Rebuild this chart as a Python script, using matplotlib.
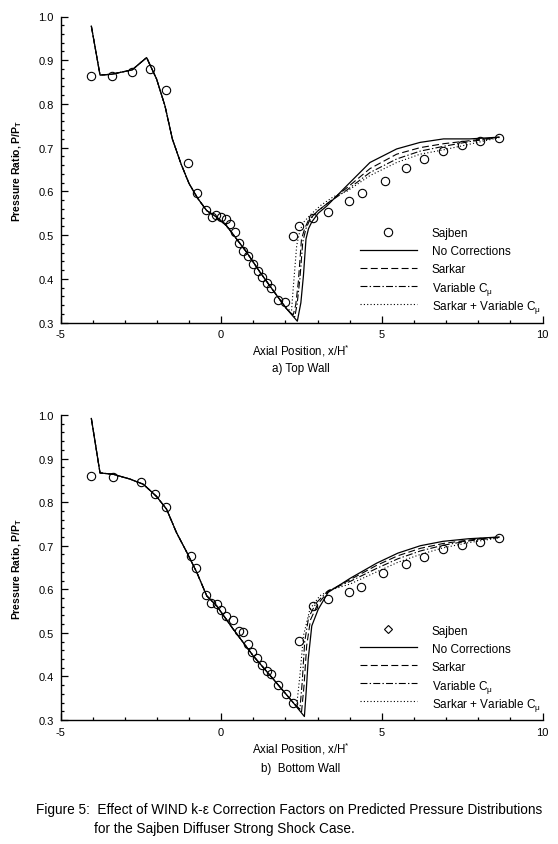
import matplotlib
matplotlib.use("Agg")
import matplotlib.pyplot as plt
from matplotlib.ticker import MultipleLocator

plt.rcParams['font.family'] = ['Liberation Sans', 'DejaVu Sans']
plt.rcParams['mathtext.fontset'] = 'custom'
plt.rcParams['mathtext.rm'] = 'Liberation Sans'
plt.rcParams['mathtext.it'] = 'Liberation Sans:italic'
plt.rcParams['mathtext.bf'] = 'Liberation Sans:bold'
plt.rcParams['lines.scale_dashes'] = False

# ---------------- Top wall data ----------------
top_sajben_x = [-4.04, -3.40, -2.77, -2.22, -1.71, -1.04, -0.76, -0.48, -0.30, -0.16,
                -0.01, 0.14, 0.28, 0.43, 0.56, 0.68, 0.82, 0.98, 1.14, 1.27,
                1.42, 1.54, 1.78, 2.00, 2.23, 2.43, 2.87, 3.31, 3.98, 4.39,
                5.09, 5.75, 6.32, 6.90, 7.49, 8.05, 8.65]
top_sajben_p = [0.865, 0.863, 0.873, 0.881, 0.831, 0.666, 0.597, 0.558, 0.542, 0.546,
                0.541, 0.536, 0.525, 0.506, 0.481, 0.464, 0.453, 0.433, 0.418, 0.405,
                0.390, 0.378, 0.352, 0.346, 0.497, 0.521, 0.539, 0.552, 0.578, 0.596,
                0.624, 0.653, 0.673, 0.693, 0.706, 0.715, 0.723]

# common upstream part (all four computations coincide)
top_up_x = [-4.04, -3.77, -3.40, -2.77, -2.32, -2.01, -1.75, -1.52, -1.25, -1.00,
            -0.73, -0.45, -0.14, 0.17, 0.48, 0.79, 1.21, 1.62, 2.04]
top_up_p = [0.978, 0.866, 0.868, 0.878, 0.906, 0.857, 0.796, 0.720, 0.663, 0.618,
            0.584, 0.556, 0.541, 0.521, 0.491, 0.461, 0.415, 0.373, 0.331]

top_nocorr_x = [2.37, 2.48, 2.56, 2.64, 2.72, 2.82, 3.02, 3.28, 3.91, 4.63, 5.46, 6.19, 6.92, 7.74, 8.65]
top_nocorr_p = [0.303, 0.345, 0.407, 0.491, 0.515, 0.530, 0.550, 0.566, 0.613, 0.666, 0.697, 0.712, 0.720, 0.720, 0.724]
top_sarkar_x = [2.24, 2.32, 2.40, 2.50, 2.60, 2.71, 3.00, 3.30, 3.91, 4.63, 5.46, 6.19, 6.92, 7.74, 8.65]
top_sarkar_p = [0.317, 0.340, 0.392, 0.491, 0.515, 0.533, 0.555, 0.572, 0.608, 0.652, 0.685, 0.700, 0.709, 0.716, 0.724]
top_varcmu_x = [2.29, 2.36, 2.45, 2.54, 2.64, 2.76, 3.00, 3.30, 3.91, 4.63, 5.46, 6.19, 6.92, 7.74, 8.65]
top_varcmu_p = [0.313, 0.340, 0.400, 0.485, 0.515, 0.535, 0.555, 0.572, 0.603, 0.643, 0.674, 0.692, 0.703, 0.714, 0.723]
top_both_x = [2.19, 2.24, 2.35, 2.45, 2.56, 2.80, 3.10, 3.50, 3.91, 4.63, 5.46, 6.19, 6.92, 7.74, 8.65]
top_both_p = [0.327, 0.376, 0.476, 0.510, 0.529, 0.548, 0.568, 0.588, 0.600, 0.636, 0.666, 0.685, 0.695, 0.708, 0.723]

# ---------------- Bottom wall data ----------------
bot_sajben_x = [-4.04, -3.38, -2.50, -2.05, -1.71, -0.94, -0.77, -0.47, -0.31, -0.13,
                -0.02, 0.15, 0.38, 0.55, 0.69, 0.83, 0.97, 1.12, 1.27, 1.42,
                1.55, 1.78, 2.02, 2.23, 2.43, 2.87, 3.31, 3.98, 4.35, 5.05,
                5.75, 6.32, 6.90, 7.49, 8.05, 8.65]
bot_sajben_p = [0.861, 0.858, 0.846, 0.819, 0.790, 0.676, 0.649, 0.586, 0.568, 0.567,
                0.553, 0.538, 0.530, 0.505, 0.502, 0.474, 0.457, 0.442, 0.427, 0.412,
                0.405, 0.380, 0.359, 0.338, 0.482, 0.561, 0.577, 0.593, 0.605, 0.637,
                0.658, 0.675, 0.692, 0.701, 0.708, 0.718]

bot_up_x = [-4.04, -3.77, -3.36, -2.84, -2.42, -2.01, -1.70, -1.39, -1.07, -0.76,
            -0.45, -0.14, 0.38, 1.00, 1.62, 2.24]
bot_up_p = [0.992, 0.867, 0.864, 0.853, 0.841, 0.813, 0.784, 0.730, 0.685, 0.639,
            0.585, 0.562, 0.508, 0.447, 0.394, 0.340]

bot_nocorr_x = [2.59, 2.65, 2.71, 2.82, 3.02, 3.33, 4.01, 4.84, 5.50, 6.20, 6.90, 7.70, 8.65]
bot_nocorr_p = [0.308, 0.370, 0.440, 0.516, 0.554, 0.593, 0.625, 0.660, 0.683, 0.700, 0.710, 0.716, 0.720]
bot_sarkar_x = [2.50, 2.58, 2.66, 2.78, 3.00, 3.33, 4.01, 4.84, 5.50, 6.20, 6.90, 7.70, 8.65]
bot_sarkar_p = [0.318, 0.380, 0.470, 0.530, 0.565, 0.595, 0.622, 0.655, 0.677, 0.694, 0.705, 0.713, 0.720]
bot_varcmu_x = [2.45, 2.52, 2.60, 2.72, 2.95, 3.33, 4.01, 4.84, 5.50, 6.20, 6.90, 7.70, 8.65]
bot_varcmu_p = [0.325, 0.385, 0.480, 0.535, 0.568, 0.597, 0.618, 0.648, 0.670, 0.688, 0.701, 0.711, 0.719]
bot_both_x = [2.35, 2.45, 2.56, 2.76, 3.07, 3.39, 4.01, 4.84, 5.50, 6.20, 6.90, 7.70, 8.65]
bot_both_p = [0.333, 0.402, 0.493, 0.554, 0.585, 0.598, 0.612, 0.640, 0.662, 0.680, 0.695, 0.707, 0.718]

legend_labels = ["Sajben", "No Corrections", "Sarkar", "Variable C$_{\\mathrm{\\mu}}$",
                 "Sarkar + Variable C$_{\\mathrm{\\mu}}$"]
x_ticks = [-5, 0, 5, 10]
y_ticks = [0.3, 0.4, 0.5, 0.6, 0.7, 0.8, 0.9, 1.0]

styles = [dict(ls='-', lw=0.9),
          dict(ls=(0, (5, 2.4)), lw=0.8),
          dict(ls=(0, (5, 1.6, 1.0, 1.6)), lw=0.8),
          dict(ls=(0, (0.8, 1.6)), lw=0.8)]

W, H = 558, 845
LEFT, RIGHT = 60.5, 542.5
fig = plt.figure(figsize=(W / 100, H / 100), dpi=100)
fig.patch.set_facecolor('white')


def make_axes(top_px, bot_px):
    return fig.add_axes([LEFT / W, 1 - bot_px / H, (RIGHT - LEFT) / W, (bot_px - top_px) / H])


def style_axes(ax):
    ax.set_xlim(-5, 10)
    ax.set_ylim(0.3, 1.0)
    ax.set_xticks(x_ticks)
    ax.set_yticks(y_ticks)
    ax.set_xticklabels([str(t) for t in x_ticks])
    ax.set_yticklabels([f"{t:.1f}" for t in y_ticks])
    ax.xaxis.set_minor_locator(MultipleLocator(1))
    ax.yaxis.set_minor_locator(MultipleLocator(0.02))
    for s in ['top', 'right']:
        ax.spines[s].set_visible(False)
    for s in ['left', 'bottom']:
        ax.spines[s].set_linewidth(1.0)
    ax.tick_params(which='major', direction='in', length=5, width=0.9, labelsize=8, pad=5)
    ax.tick_params(which='minor', direction='in', length=2.5, width=0.9)
    ax.set_ylabel("Pressure Ratio, P/P$_{\\mathbf{T}}$", fontsize=7.5, fontweight='bold', labelpad=10)


def draw(ax, top_px, bot_px, sx, sp, upx, upp, tails, legend_marker):
    ax.plot(sx, sp, ls='none', marker='o', ms=6, mfc='none', mec='black', mew=0.8, zorder=3)
    for (tx, tp), st in zip(tails, styles):
        ax.plot(list(upx) + list(tx), list(upp) + list(tp), color='black', **st)
    # manual legend (axes-fraction coordinates)
    h = bot_px - top_px
    wdt = RIGHT - LEFT
    x0 = (360 - LEFT) / wdt
    x1 = (416.7 - LEFT) / wdt
    xm = (388.3 - LEFT) / wdt
    xt = (432 - LEFT) / wdt
    for i, lab in enumerate(legend_labels):
        yf = (90.8 - 18 * i) / h
        if i == 0:
            ax.plot([xm], [yf], transform=ax.transAxes, ls='none', marker=legend_marker,
                    ms=6 if legend_marker == 'o' else 4.5, mfc='none', mec='black', mew=0.8,
                    clip_on=False)
        else:
            ax.plot([x0, x1], [yf, yf], transform=ax.transAxes, color='black',
                    clip_on=False, **styles[i - 1])
        ax.text(xt, yf, lab, transform=ax.transAxes, ha='left', va='center_baseline',
                fontsize=8.5)


ax1 = make_axes(17.5, 323.5)
style_axes(ax1)
draw(ax1, 17.5, 323.5, top_sajben_x, top_sajben_p, top_up_x, top_up_p,
     [(top_nocorr_x, top_nocorr_p), (top_sarkar_x, top_sarkar_p),
      (top_varcmu_x, top_varcmu_p), (top_both_x, top_both_p)], 'o')

ax2 = make_axes(416, 721)
style_axes(ax2)
draw(ax2, 416, 721, bot_sajben_x, bot_sajben_p, bot_up_x, bot_up_p,
     [(bot_nocorr_x, bot_nocorr_p), (bot_sarkar_x, bot_sarkar_p),
      (bot_varcmu_x, bot_varcmu_p), (bot_both_x, bot_both_p)], 'D')

xc = 301 / W
fig.text(xc, 1 - 351 / H, "Axial Position, x/H$^{*}$", ha='center', va='center', fontsize=8.3)
fig.text(xc, 1 - 369 / H, "a) Top Wall", ha='center', va='center', fontsize=8.4)
fig.text(xc, 1 - 749 / H, "Axial Position, x/H$^{*}$", ha='center', va='center', fontsize=8.3)
fig.text(xc, 1 - 769 / H, "b)  Bottom Wall", ha='center', va='center', fontsize=8.4)
fig.text(36 / W, 1 - 810 / H,
         "Figure 5:  Effect of WIND k-\u03b5 Correction Factors on Predicted Pressure Distributions",
         ha='left', va='center', fontsize=9.8)
fig.text(94 / W, 1 - 829 / H, "for the Sajben Diffuser Strong Shock Case.",
         ha='left', va='center', fontsize=9.8)

fig.savefig("out.png", dpi=100, facecolor='white')
